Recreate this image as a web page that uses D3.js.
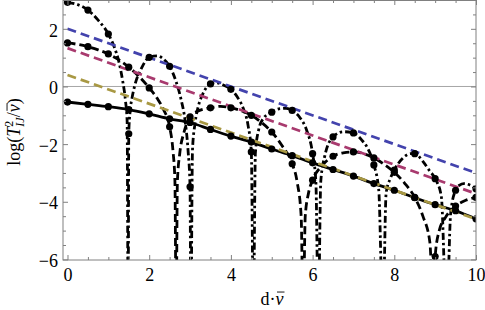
<!DOCTYPE html>
<html>
<head>
<meta charset="utf-8">
<script src="https://cdn.jsdelivr.net/npm/d3@7"></script>
<style>
  body { margin: 0; background: #fff; }
  svg { display: block; font-family: "Liberation Serif", "Times New Roman", serif; }
  svg text { font-family: "Liberation Serif", "Times New Roman", serif; }
</style>
</head>
<body>
<svg id="chart"></svg>
<script>
// ---- data ----
// marker positions (every 0.5 in d·v)
const xMarks = [0, 0.5, 1, 1.5, 2, 2.5, 3, 3.5, 4, 4.5, 5, 5.5, 6, 6.5, 7, 7.5, 8, 8.5, 9, 9.5, 10];
const solidMarks = [-0.54, -0.62, -0.70, -0.80, -0.95, -1.12, -1.25, -1.49, -1.72, -1.93, -2.17, -2.40, -2.65, -2.88, -3.11, -3.37, -3.60, -3.86, -4.10, -4.31, -4.59];
const dashedMarks = [1.51, 1.38, 1.13, 0.67, -0.05, -1.40, -1.05, -0.74, -0.74, -1.00, -1.58, -2.68, -3.25, -2.42, -2.27, -2.48, -2.98, -3.85, -5.90, -4.15, -3.85];
const dotDashMarks = [2.92, 2.65, 1.82, -1.64, 1.01, 0.70, -3.48, 0.09, -0.10, -2.27, -0.89, -0.83, -2.33, -1.75, -1.61, -2.72, -2.90, -2.33, -3.20, -3.60, -3.55];

// traced curves [x, y] (dips run off the bottom)
const dashedCurve = [
  [0, 1.51], [0.25, 1.46], [0.5, 1.38], [0.75, 1.27], [1, 1.13], [1.25, 0.93], [1.5, 0.67], [1.75, 0.35],
  [2, -0.05], [2.2, -0.42], [2.35, -0.8], [2.5, -1.40], [2.58, -2.2], [2.63, -3.3], [2.66, -8], [2.69, -3.3],
  [2.75, -2.3], [2.85, -1.6], [3, -1.05], [3.2, -0.85], [3.5, -0.74], [3.75, -0.69], [4, -0.74], [4.25, -0.84],
  [4.5, -1.00], [4.75, -1.25], [5, -1.58], [5.25, -2.05], [5.5, -2.68], [5.62, -3.3], [5.72, -4.5], [5.77, -8],
  [5.82, -4.5], [5.9, -3.7], [6, -3.25], [6.25, -2.72], [6.5, -2.42], [6.75, -2.3], [7, -2.27], [7.25, -2.33],
  [7.5, -2.48], [7.75, -2.7], [8, -2.98], [8.25, -3.35], [8.5, -3.85], [8.7, -4.5], [8.87, -5.4], [8.97, -8],
  [9.0, -5.9], [9.1, -5.0], [9.25, -4.55], [9.5, -4.15], [9.75, -3.95], [10, -3.85]
];
const dotDashCurve = [
  [0, 2.92], [0.25, 2.84], [0.5, 2.65], [0.75, 2.3], [1, 1.82], [1.15, 1.35], [1.25, 0.9], [1.35, 0.2],
  [1.42, -0.5], [1.46, -1.2], [1.485, -8], [1.5, -1.64], [1.53, -0.9], [1.58, -0.4], [1.65, 0.05], [1.8, 0.6],
  [2, 1.01], [2.2, 1.06], [2.35, 0.95], [2.5, 0.70], [2.65, 0.2], [2.78, -0.45], [2.88, -1.2], [2.95, -2.2],
  [3.0, -3.48], [3.02, -8], [3.06, -2.2], [3.12, -1.3], [3.2, -0.7], [3.3, -0.3], [3.5, 0.09], [3.65, 0.13],
  [3.8, 0.06], [4, -0.10], [4.15, -0.35], [4.3, -0.75], [4.42, -1.35], [4.5, -2.27], [4.55, -8], [4.6, -2.3],
  [4.68, -1.5], [4.8, -1.1], [5, -0.89], [5.2, -0.77], [5.35, -0.76], [5.5, -0.83], [5.7, -1.1], [5.85, -1.5],
  [6, -2.33], [6.08, -3.3], [6.14, -8], [6.2, -3.3], [6.3, -2.4], [6.5, -1.75], [6.75, -1.57], [7, -1.61],
  [7.2, -1.85], [7.35, -2.15], [7.5, -2.72], [7.62, -3.6], [7.72, -8], [7.8, -3.7], [7.9, -3.2], [8, -2.90],
  [8.2, -2.5], [8.4, -2.33], [8.5, -2.33], [8.7, -2.6], [8.85, -2.9], [9, -3.20], [9.15, -3.8], [9.28, -8],
  [9.38, -4.4], [9.5, -3.60], [9.6, -3.42], [9.7, -3.37], [9.85, -3.42], [10, -3.55]
];

// straight dashed reference lines
const blueLine = [[0, 2.0], [10, -3.0]];
const purpleLine = [[0, 1.33], [10, -3.72]];
const oliveLine = [[0, 0.40], [10, -4.60]];

// ticks
const xMajor = [0, 2, 4, 6, 8, 10];
const xMinor = [0.5, 1, 1.5, 2.5, 3, 3.5, 4.5, 5, 5.5, 6.5, 7, 7.5, 8.5, 9, 9.5];
const yMajor = [-6, -4, -2, 0, 2];
const yMinor = [-5.5, -5, -4.5, -3.5, -3, -2.5, -1.5, -1, -0.5, 0.5, 1, 1.5, 2.5];

// ---- setup ----
const svg = d3.select("#chart")
  .attr("width", 485)
  .attr("height", 310);

const frame = { left: 63, right: 476, top: 0, bottom: 260 };

const x = d3.scaleLinear().domain([-0.11, 10]).range([frame.left, frame.right]);
const y = d3.scaleLinear().domain([-6.02, 3]).range([frame.bottom, frame.top]);

svg.append("defs").append("clipPath")
  .attr("id", "plot-clip")
  .append("rect")
  .attr("x", frame.left)
  .attr("y", frame.top)
  .attr("width", frame.right - frame.left)
  .attr("height", frame.bottom - frame.top);

const plot = svg.append("g").attr("clip-path", "url(#plot-clip)");

// zero axis line
plot.append("line")
  .attr("x1", frame.left).attr("x2", frame.right)
  .attr("y1", y(0)).attr("y2", y(0))
  .attr("stroke", "#a6a6a6")
  .attr("stroke-width", 1);

const line = d3.line()
  .x(d => x(d[0]))
  .y(d => y(d[1]))
  .curve(d3.curveMonotoneX);

// black curves
plot.append("path")
  .datum(xMarks.map((v, i) => [v, solidMarks[i]]))
  .attr("d", line)
  .attr("fill", "none")
  .attr("stroke", "#000")
  .attr("stroke-width", 2.8);

plot.append("path")
  .datum(dashedCurve)
  .attr("d", line)
  .attr("fill", "none")
  .attr("stroke", "#000")
  .attr("stroke-width", 2.8)
  .attr("stroke-dasharray", "8,4");

plot.append("path")
  .datum(dotDashCurve)
  .attr("d", line)
  .attr("fill", "none")
  .attr("stroke", "#000")
  .attr("stroke-width", 2.8)
  .attr("stroke-dasharray", "7,3,2.5,3");

// coloured dashed lines
[[blueLine, "#4343ad"], [purpleLine, "#a83a6e"], [oliveLine, "#a89843"]].forEach(([pts, col]) => {
  plot.append("path")
    .datum(pts)
    .attr("d", d3.line().x(d => x(d[0])).y(d => y(d[1])))
    .attr("fill", "none")
    .attr("stroke", col)
    .attr("stroke-width", 2.7)
    .attr("stroke-dasharray", "9,5");
});

// markers
[solidMarks, dashedMarks, dotDashMarks].forEach(vals => {
  plot.append("g")
    .selectAll("circle")
    .data(xMarks.map((v, i) => [v, vals[i]]))
    .join("circle")
    .attr("cx", d => x(d[0]))
    .attr("cy", d => y(d[1]))
    .attr("r", 3.6)
    .attr("fill", "#000");
});

// ---- frame and ticks ----
const tickColor = "#808080";
const fs = 18;
const serif = '"Liberation Serif", "Times New Roman", serif';

function styleAxis(g) {
  g.select(".domain").remove();
  g.selectAll(".tick line").attr("stroke", tickColor);
  g.attr("font-family", null).attr("font-size", null);
  g.selectAll(".tick text")
    .attr("fill", "#000")
    .style("font-family", serif)
    .style("font-size", fs + "px");
}

svg.append("g")
  .attr("transform", `translate(0,${frame.bottom})`)
  .call(d3.axisBottom(x).tickValues(xMajor).tickSize(-5).tickPadding(8).tickFormat(d3.format("d")))
  .call(styleAxis);
svg.append("g")
  .attr("transform", `translate(0,${frame.bottom})`)
  .call(d3.axisBottom(x).tickValues(xMinor).tickSize(-3).tickFormat(""))
  .call(styleAxis);

svg.append("g")
  .attr("transform", `translate(0,${frame.top})`)
  .call(d3.axisTop(x).tickValues(xMajor).tickSize(-5).tickFormat(""))
  .call(styleAxis);
svg.append("g")
  .attr("transform", `translate(0,${frame.top})`)
  .call(d3.axisTop(x).tickValues(xMinor).tickSize(-3).tickFormat(""))
  .call(styleAxis);

svg.append("g")
  .attr("transform", `translate(${frame.left},0)`)
  .call(d3.axisLeft(y).tickValues(yMajor).tickSize(-5).tickPadding(5).tickFormat(d3.format("d")))
  .call(styleAxis)
  .selectAll(".tick text").attr("dy", "0.4em");
svg.append("g")
  .attr("transform", `translate(${frame.left},0)`)
  .call(d3.axisLeft(y).tickValues(yMinor).tickSize(-3).tickFormat(""))
  .call(styleAxis);

svg.append("g")
  .attr("transform", `translate(${frame.right},0)`)
  .call(d3.axisRight(y).tickValues(yMajor).tickSize(-5).tickFormat(""))
  .call(styleAxis);
svg.append("g")
  .attr("transform", `translate(${frame.right},0)`)
  .call(d3.axisRight(y).tickValues(yMinor).tickSize(-3).tickFormat(""))
  .call(styleAxis);

svg.append("rect")
  .attr("x", frame.left)
  .attr("y", frame.top + 0.5)
  .attr("width", frame.right - frame.left)
  .attr("height", frame.bottom - frame.top - 0.5)
  .attr("fill", "none")
  .attr("stroke", tickColor)
  .attr("stroke-width", 1);

// ---- axis labels ----
// x label: d·v̄
const xLab = svg.append("text")
  .attr("x", 272)
  .attr("y", 305)
  .attr("text-anchor", "middle")
  .attr("font-size", fs);
xLab.append("tspan").text("d\u00b7");
xLab.append("tspan").attr("font-style", "italic").text("v");
const xv = xLab.node().getExtentOfChar(2);
svg.append("line")
  .attr("x1", xv.x + 1.5).attr("x2", xv.x + xv.width + 1)
  .attr("y1", 305 - 0.72 * fs).attr("y2", 305 - 0.72 * fs)
  .attr("stroke", "#000").attr("stroke-width", 0.9);

// y label: log(T^2_IJ / v̄)
const yg = svg.append("g").attr("transform", "translate(20,132) rotate(-90)");
const yLab = yg.append("text")
  .attr("text-anchor", "middle")
  .attr("font-size", fs);
yLab.append("tspan").text("log(");
yLab.append("tspan").attr("font-style", "italic").text("T");
yLab.append("tspan").attr("font-size", 12).attr("dy", -7).text("2");
yLab.append("tspan").attr("font-size", 12).attr("font-style", "italic").attr("dx", -6).attr("dy", 11).text("IJ");
yLab.append("tspan").attr("dy", -4).text("/");
yLab.append("tspan").attr("font-style", "italic").text("v");
yLab.append("tspan").text(")");
const yv = yLab.node().getExtentOfChar(9);
yg.append("line")
  .attr("x1", yv.x + 1.5).attr("x2", yv.x + yv.width + 1)
  .attr("y1", -0.72 * fs).attr("y2", -0.72 * fs)
  .attr("stroke", "#000").attr("stroke-width", 0.9);
</script>
</body>
</html>
